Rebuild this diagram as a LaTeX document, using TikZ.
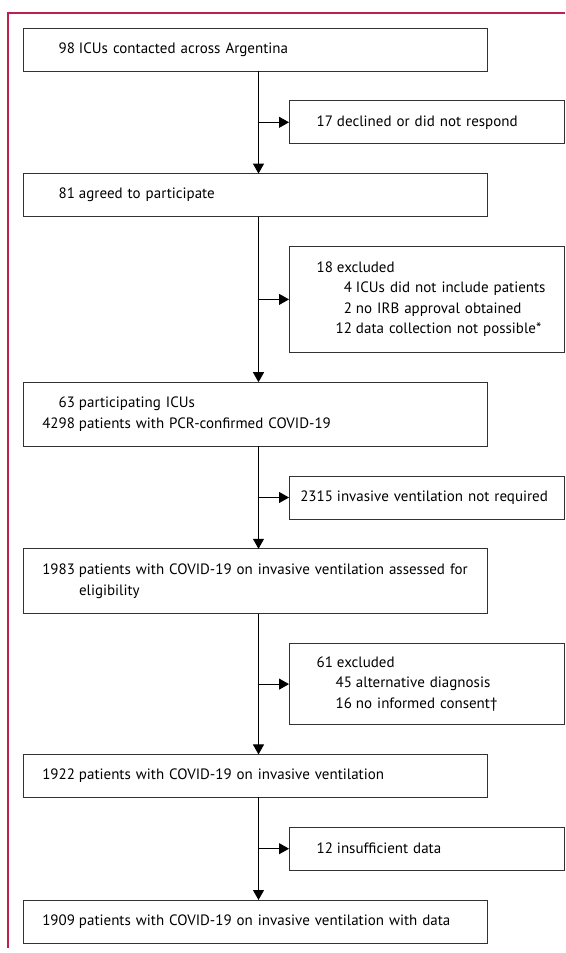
\documentclass[tikz,border=0pt]{standalone}
\usepackage{fontspec}
\setmainfont{PT Sans}
\usetikzlibrary{arrows.meta,positioning}
\definecolor{lancetred}{RGB}{192,30,78}
\definecolor{boxgray}{RGB}{50,50,50}
\newcommand{\mainnum}[1]{\makebox[44pt][r]{#1}\hspace{4pt}}
\newcommand{\sidenum}[1]{\makebox[36pt][r]{#1}\hspace{4pt}}
\newcommand{\subnum}[1]{\makebox[55pt][r]{#1}\hspace{4pt}}

\begin{document}
\begin{tikzpicture}[
    x=1pt, y=-1pt,
    -{Triangle[length=10pt,width=11pt]},
    line width=1pt,
    node distance=29.8pt,
    flow box/.style={rectangle,draw=boxgray,fill=white,align=left,inner xsep=8pt,inner ysep=0pt,outer sep=0pt,minimum height=43pt,font=\fontsize{15pt}{20.5pt}\selectfont},
    main box/.style={flow box,text width=448pt},
    side box/.style={flow box,text width=259pt}]

  \useasboundingbox (0,0) rectangle (565,953);
  \draw[-,lancetred,line width=1.5pt] (565,13) -- (8,13) -- (8,948);

  \node[main box,anchor=north west] (Contacted) at (23,28) {\mainnum{98}ICUs contacted across Argentina};
  \node[side box,below=of Contacted.south west,anchor=north west,xshift=266pt] (Declined) {\sidenum{17}declined or did not respond};
  \node[main box,below=of Declined.south west,anchor=north west,xshift=-266pt] (Agreed) {\mainnum{81}agreed to participate};
  \node[side box,below=of Agreed.south west,anchor=north west,xshift=266pt,minimum height=106pt] (ExcludedICUs)
    {\sidenum{18}excluded\\ \subnum{4}ICUs did not include patients\\ \subnum{2}no IRB approval obtained\\ \subnum{12}data collection not possible*};
  \node[main box,below=of ExcludedICUs.south west,anchor=north west,xshift=-266pt,minimum height=64pt] (Participating)
    {\mainnum{63}participating ICUs\\ \mainnum{4298}patients with PCR-confirmed COVID-19};
  \node[side box,below=of Participating.south west,anchor=north west,xshift=266pt] (NotVentilated) {\sidenum{2315}invasive ventilation not required};
  \node[main box,below=of NotVentilated.south west,anchor=north west,xshift=-266pt,minimum height=65pt] (Assessed)
    {\mainnum{1983}patients with COVID-19 on invasive ventilation assessed for\\ \mainnum{}eligibility};
  \node[side box,below=of Assessed.south west,anchor=north west,xshift=266pt,minimum height=81pt] (ExcludedPatients)
    {\sidenum{61}excluded\\ \subnum{45}alternative diagnosis\\ \subnum{16}no informed consent\textdagger};
  \node[main box,below=of ExcludedPatients.south west,anchor=north west,xshift=-266pt] (Ventilated) {\mainnum{1922}patients with COVID-19 on invasive ventilation};
  \node[side box,below=of Ventilated.south west,anchor=north west,xshift=266pt] (NoData) {\sidenum{12}insufficient data};
  \node[main box,below=of NoData.south west,anchor=north west,xshift=-266pt] (Final) {\mainnum{1909}patients with COVID-19 on invasive ventilation with data};

  \coordinate (Trunk) at (258.5,0);

  \path
    (Contacted.south -| Trunk) edge (Agreed.north -| Trunk)
    (Declined.west -| Trunk) edge (Declined)
    (Agreed.south -| Trunk) edge (Participating.north -| Trunk)
    (ExcludedICUs.west -| Trunk) edge (ExcludedICUs)
    (Participating.south -| Trunk) edge (Assessed.north -| Trunk)
    (NotVentilated.west -| Trunk) edge (NotVentilated)
    (Assessed.south -| Trunk) edge (Ventilated.north -| Trunk)
    (ExcludedPatients.west -| Trunk) edge (ExcludedPatients)
    (Ventilated.south -| Trunk) edge (Final.north -| Trunk)
    (NoData.west -| Trunk) edge (NoData);

\end{tikzpicture}
\end{document}
